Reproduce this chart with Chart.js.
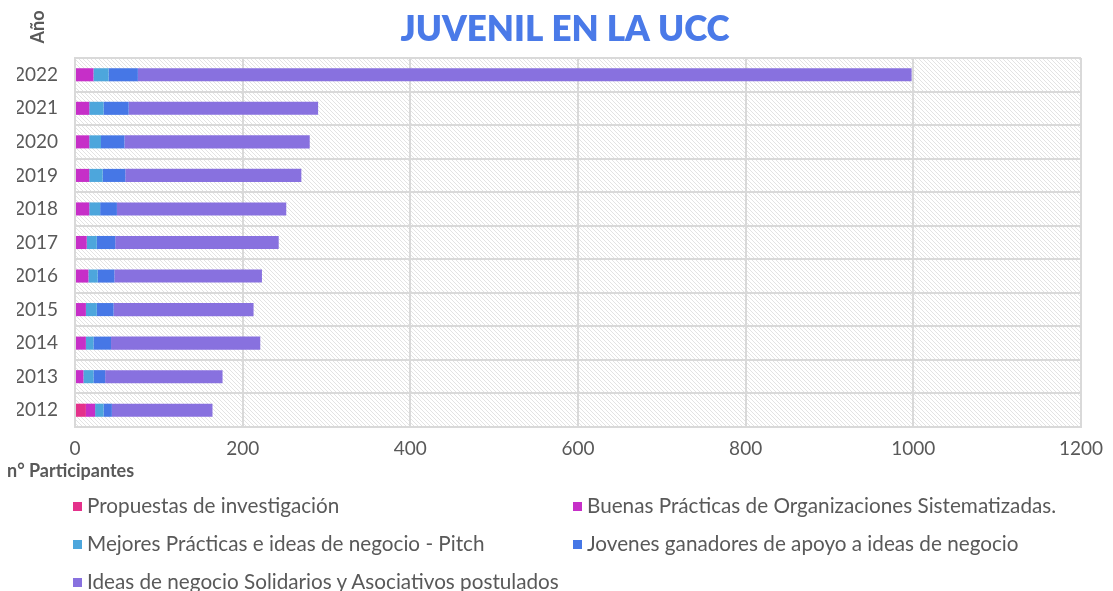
<!DOCTYPE html>
<html>
<head>
<meta charset="utf-8">
<script src="https://cdn.jsdelivr.net/npm/chart.js@4"></script>
<style>
  body { margin: 0; background: #fff; }
  .wrap { position: relative; width: 1113px; height: 591px; overflow: hidden; }
  .legend {
    position: absolute; left: 73px; top: 491px;
    display: grid; grid-template-columns: 500px 500px; row-gap: 10px;
    font-family: Lato, sans-serif; font-size: 20.7px; color: #595959;
  }
  .legend div { height: 28px; line-height: 28px; white-space: nowrap; }
  .legend span { display: inline-block; width: 9px; height: 9px; margin-right: 5px; vertical-align: 2px; }
</style>
</head>
<body>
<div class="wrap">
  <canvas class="chart-1" width="1113" height="591"></canvas>
  <div class="legend" id="legend"></div>
</div>
<script>
const years = ['2012', '2013', '2014', '2015', '2016', '2017', '2018', '2019', '2020', '2021', '2022'];
const propuestas = [13, 0, 0, 0, 0, 0, 0, 0, 0, 0, 0];
const buenasPracticas = [11, 10, 13, 13, 16, 14, 17, 17, 17, 17, 22];
const mejoresPracticas = [10, 12, 9, 13, 11, 12, 13, 16, 14, 17, 18];
const jovenesGanadores = [10, 14, 21, 20, 20, 22, 20, 27, 28, 30, 35];
const ideasNegocio = [120, 140, 178, 167, 176, 195, 202, 210, 221, 226, 923];
const xTicks = [0, 200, 400, 600, 800, 1000, 1200];

const seriesNames = [
    'Propuestas de investigación',
    'Buenas Prácticas de Organizaciones Sistematizadas.',
    'Mejores Prácticas e ideas de negocio - Pitch',
    'Jovenes ganadores de apoyo a ideas de negocio',
    'Ideas de negocio Solidarios y Asociativos postulados'
];
const seriesData = [propuestas, buenasPracticas, mejoresPracticas, jovenesGanadores, ideasNegocio];
const colors = ['#e4318b', '#c62fc8', '#4da6dc', '#4677e6', '#8871df'];

const chart1 = document.querySelector('.chart-1');

// fondo rayado del area del grafico
function makePattern() {
    const c = document.createElement('canvas');
    c.width = 4;
    c.height = 4;
    const g = c.getContext('2d');
    g.fillStyle = '#ffffff';
    g.fillRect(0, 0, 4, 4);
    g.strokeStyle = '#e3e3e3';
    g.lineWidth = 1;
    g.beginPath();
    g.moveTo(-1, -1); g.lineTo(5, 5);
    g.moveTo(-1, 3); g.lineTo(1, 5);
    g.moveTo(3, -1); g.lineTo(5, 1);
    g.stroke();
    return g.createPattern(c, 'repeat');
}

const extras = {
    id: 'extras',
    beforeDraw(chart) {
        const ctx = chart.ctx;
        const a = chart.chartArea;
        ctx.save();
        ctx.fillStyle = makePattern();
        ctx.fillRect(a.left, a.top, a.right - a.left, a.bottom - a.top);
        ctx.restore();
    },
    afterDraw(chart) {
        const ctx = chart.ctx;
        ctx.save();
        ctx.fillStyle = '#4a7ae8';
        ctx.font = '800 35px Lato';
        ctx.textAlign = 'center';
        ctx.textBaseline = 'middle';
        ctx.fillText('JUVENIL EN LA UCC', 565, 30);

        ctx.fillStyle = '#595959';
        ctx.font = 'bold 18px Lato';
        ctx.textAlign = 'left';
        ctx.fillText('n° Participantes', 7, 471);

        ctx.translate(38, 27);
        ctx.rotate(-Math.PI / 2);
        ctx.textAlign = 'center';
        ctx.fillText('Año', 0, 0);
        ctx.restore();
    }
};

const datasets = [];
for (let i = 0; i < seriesNames.length; i++) {
    datasets.push({
        label: seriesNames[i],
        data: seriesData[i],
        backgroundColor: colors[i],
        barPercentage: 0.39,
        categoryPercentage: 1
    });
}

new Chart(chart1, {
    type: 'bar',
    data: {
        labels: years,
        datasets: datasets
    },
    options: {
        indexAxis: 'y',
        responsive: false,
        animation: false,
        layout: {
            padding: { left: 17, right: 31, top: 58, bottom: 124 }
        },
        plugins: {
            legend: { display: false },
            title: { display: false },
            tooltip: { enabled: false }
        },
        scales: {
            x: {
                stacked: true,
                min: 0,
                max: 1200,
                afterBuildTicks: (scale) => {
                    scale.ticks = xTicks.map(v => ({ value: v }));
                },
                afterFit: (scale) => { scale.height = 40; },
                grid: { color: '#d9d9d9', lineWidth: 2, drawTicks: false },
                border: { color: '#d9d9d9', width: 2 },
                ticks: {
                    color: '#595959',
                    font: { family: 'Lato', size: 19 },
                    padding: 10,
                    maxRotation: 0,
                    callback: (value) => String(value)
                }
            },
            y: {
                stacked: true,
                reverse: true,
                afterFit: (scale) => { scale.width = 58; },
                grid: { color: '#d9d9d9', lineWidth: 2, drawTicks: false, offset: true },
                border: { color: '#d9d9d9', width: 2 },
                ticks: { color: '#595959', font: { family: 'Lato', size: 19 }, padding: 17 }
            }
        }
    },
    plugins: [extras]
});

// leyenda en html, dos columnas como en el original
const legend = document.getElementById('legend');
for (let i = 0; i < seriesNames.length; i++) {
    const item = document.createElement('div');
    item.innerHTML = '<span style="background:' + colors[i] + '"></span>' + seriesNames[i];
    legend.appendChild(item);
}
</script>
</body>
</html>
